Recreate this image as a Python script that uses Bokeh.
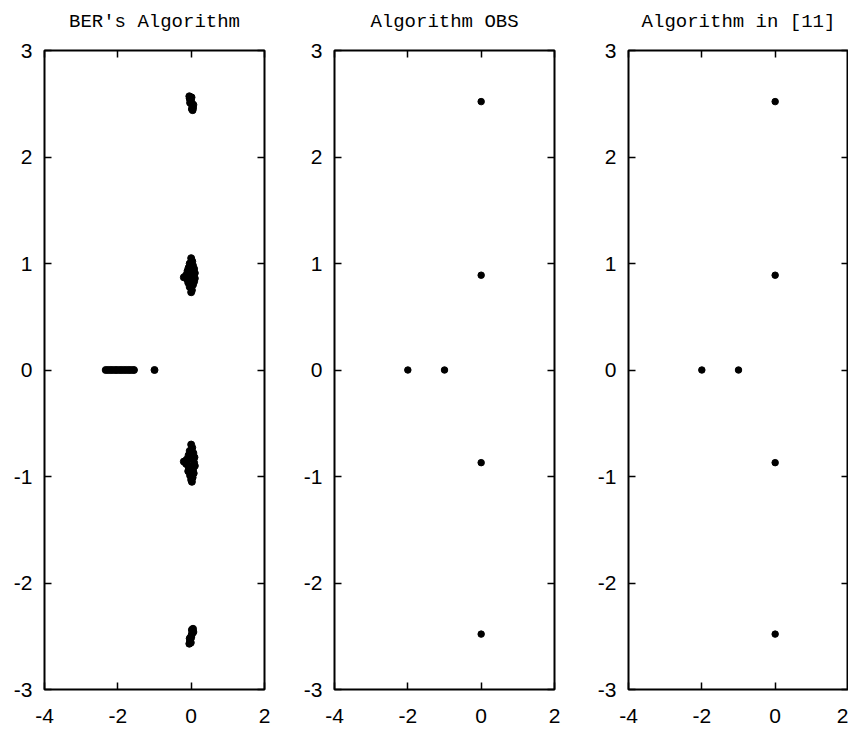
from bokeh.plotting import figure
from bokeh.layouts import row
from bokeh.models import LinearAxis, FixedTicker, Range1d, CustomJSTickFormatter
from bokeh.embed import file_html
from bokeh.resources import INLINE

# ---- data ----
titles = ["BER's Algorithm", "Algorithm OBS", "Algorithm in [11]"]
x_ticks = [-4, -2, 0, 2]
y_ticks = [-3, -2, -1, 0, 1, 2, 3]

# BER's algorithm: scattered estimates
ber_top_x = [-0.05, -0.04, -0.02, 0.0, 0.02, 0.03, 0.05, 0.04, 0.02, 0.06, -0.03, 0.01]
ber_top_y = [2.57, 2.55, 2.54, 2.52, 2.50, 2.48, 2.46, 2.44, 2.45, 2.49, 2.51, 2.56]

ber_up_x = [0.0, 0.03, -0.04, 0.05, -0.07, 0.08, -0.1, 0.1, -0.14, -0.2, 0.05, -0.05,
            0.1, -0.1, 0.08, -0.08, 0.05, -0.04, 0.02, 0.0, 0.03, -0.02, -0.12, 0.07]
ber_up_y = [1.05, 1.02, 1.0, 0.98, 0.96, 0.95, 0.93, 0.91, 0.89, 0.87, 0.88, 0.90,
            0.86, 0.85, 0.83, 0.82, 0.80, 0.78, 0.75, 0.73, 0.85, 0.92, 0.86, 0.89]

ber_lo_x = [0.0, 0.03, -0.04, 0.06, -0.07, 0.09, -0.12, -0.2, 0.08, -0.1, 0.1, -0.06,
            0.05, -0.08, 0.07, -0.03, 0.04, 0.0, 0.02, -0.05, 0.06, -0.14]
ber_lo_y = [-0.70, -0.73, -0.76, -0.78, -0.80, -0.82, -0.84, -0.86, -0.87, -0.89, -0.90, -0.92,
            -0.94, -0.95, -0.97, -0.99, -1.01, -1.03, -1.05, -0.83, -0.91, -0.88]

ber_bot_x = [0.05, 0.04, 0.03, 0.01, 0.0, -0.02, -0.03, -0.05, -0.04, 0.02, 0.06, -0.01]
ber_bot_y = [-2.43, -2.45, -2.47, -2.49, -2.51, -2.53, -2.55, -2.57, -2.52, -2.44, -2.46, -2.56]

ber_real_x = [-2.33, -2.26, -2.19, -2.12, -2.05, -1.98, -1.91, -1.84, -1.77, -1.70, -1.63, -1.56, -1.0]
ber_real_y = [0.0] * 13

# OBS and [11]: exact estimates
obs_x = [0.0, 0.0, -2.0, -1.0, 0.0, 0.0]
obs_y = [2.52, 0.89, 0.0, 0.0, -0.87, -2.48]
ref11_x = [0.0, 0.0, -2.0, -1.0, 0.0, 0.0]
ref11_y = [2.52, 0.89, 0.0, 0.0, -0.87, -2.48]

ber_x = ber_top_x + ber_up_x + ber_lo_x + ber_bot_x + ber_real_x
ber_y = ber_top_y + ber_up_y + ber_lo_y + ber_bot_y + ber_real_y

TICK_FONT = "Liberation Sans"
TITLE_FONT = "Liberation Mono"
FW = 220


def make_fig(title, xs, ys, bl, br, msize):
    p = figure(width=bl + FW + br, height=722, frame_width=FW, frame_height=639,
               min_border_left=bl, min_border_right=br, min_border_top=50, min_border_bottom=33,
               x_range=Range1d(-4, 2), y_range=Range1d(-3, 3),
               output_backend="svg", toolbar_location=None)
    p.grid.visible = False
    p.outline_line_color = "black"
    p.outline_line_width = 2
    p.outline_line_alpha = 1
    p.background_fill_color = "white"
    p.border_fill_color = "white"

    fmt = CustomJSTickFormatter(code="return tick.toFixed(0)")
    for ax in (p.xaxis[0], p.yaxis[0]):
        ax.axis_line_color = None
        ax.major_tick_in = 7
        ax.major_tick_out = 0
        ax.minor_tick_line_color = None
        ax.major_tick_line_width = 1.5
        ax.major_tick_line_color = "black"
        ax.major_label_text_font = TICK_FONT
        ax.major_label_text_font_size = "21px"
        ax.major_label_text_color = "black"
        ax.formatter = fmt
    p.xaxis[0].ticker = FixedTicker(ticks=x_ticks)
    p.yaxis[0].ticker = FixedTicker(ticks=y_ticks)
    p.xaxis[0].major_label_standoff = 19
    p.yaxis[0].major_label_standoff = 12

    blank = CustomJSTickFormatter(code="return ''")
    # top axis carries the mirrored ticks and the panel title
    top = LinearAxis(ticker=FixedTicker(ticks=x_ticks), formatter=blank, axis_label=title)
    top.axis_label_text_font = TITLE_FONT
    top.axis_label_text_font_size = "19px"
    top.axis_label_text_font_style = "normal"
    top.axis_label_text_color = "black"
    top.axis_label_standoff = 18
    right = LinearAxis(ticker=FixedTicker(ticks=y_ticks), formatter=blank)
    for ax in (top, right):
        ax.axis_line_color = None
        ax.major_tick_in = 7
        ax.major_tick_out = 0
        ax.minor_tick_line_color = None
        ax.major_tick_line_width = 1.5
        ax.major_tick_line_color = "black"
        ax.major_label_text_font_size = "1px"
        ax.major_label_standoff = 0
    p.add_layout(top, "above")
    p.add_layout(right, "right")

    p.scatter(xs, ys, size=msize, color="black", marker="circle")
    return p


p1 = make_fig(titles[0], ber_x, ber_y, 44, 8, 7)
p2 = make_fig(titles[1], obs_x, obs_y, 62, 8, 6.5)
p3 = make_fig(titles[2], ref11_x, ref11_y, 66, 0, 6.5)

layout = row(p1, p2, p3)
open("out.html", "w").write(file_html(layout, INLINE))
